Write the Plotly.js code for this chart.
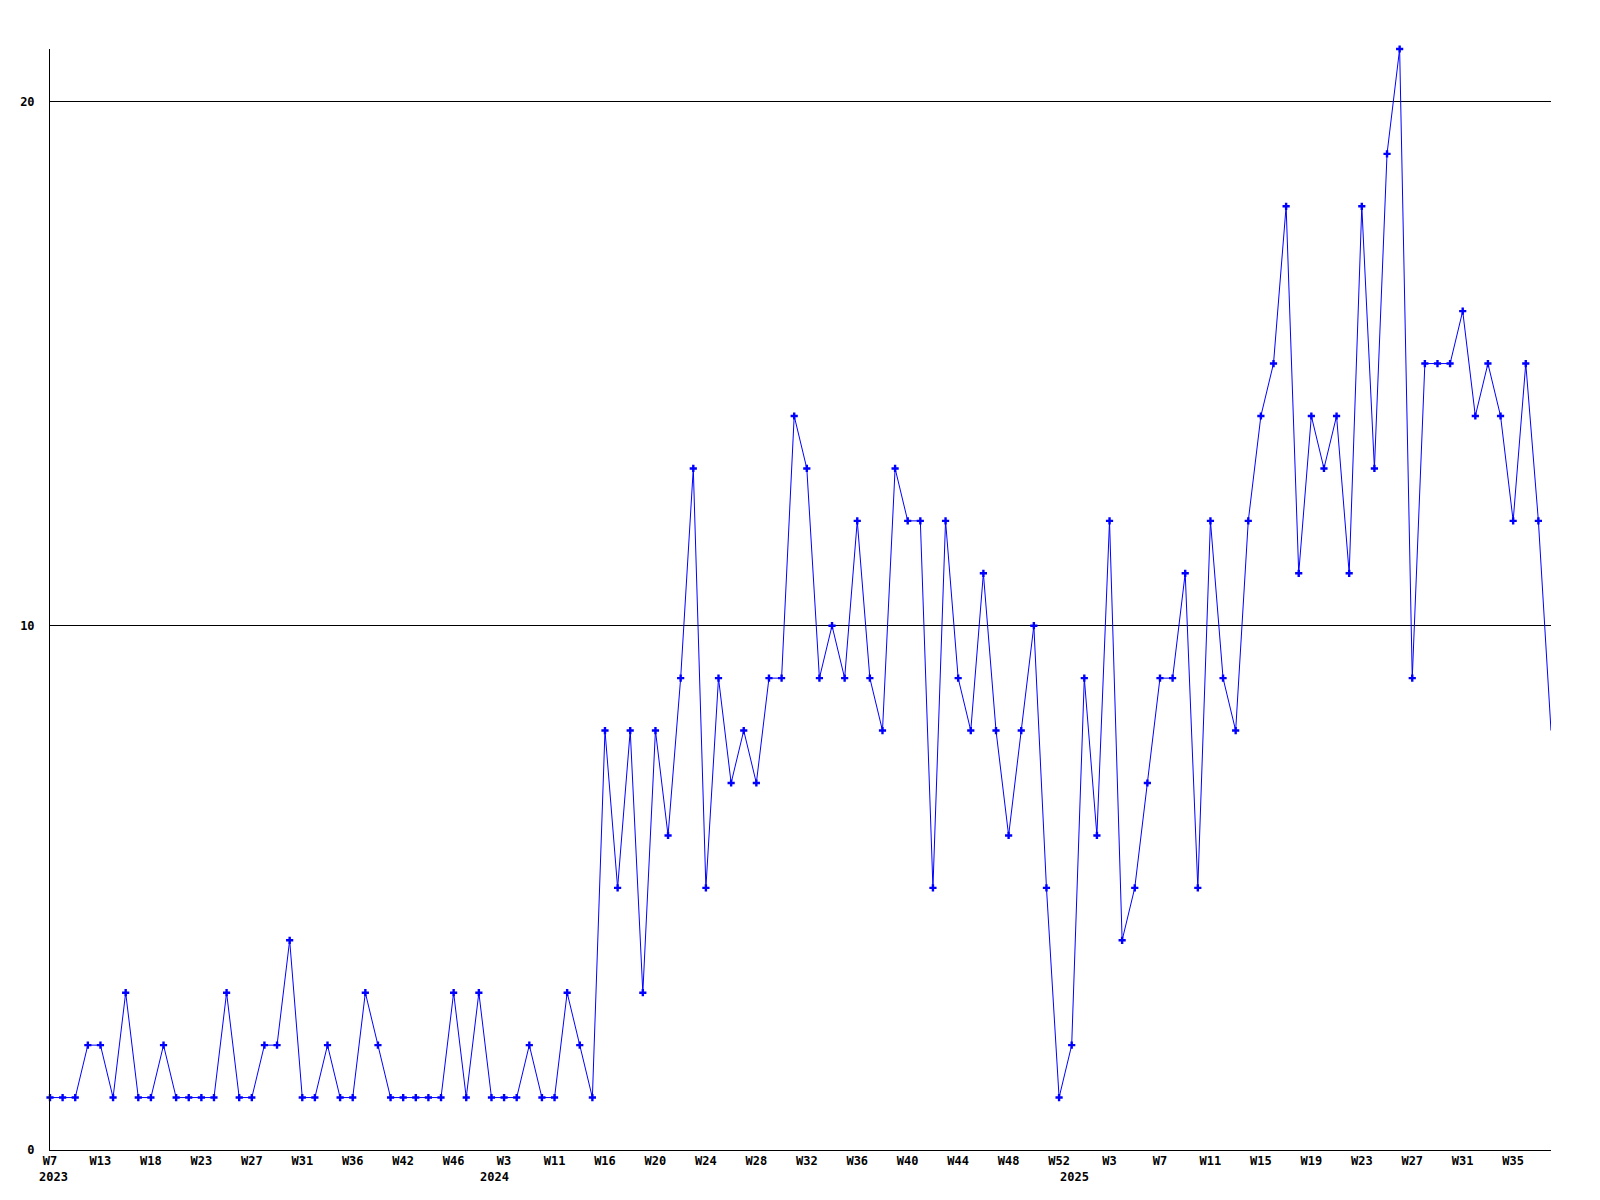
<!DOCTYPE html>
<html>
<head>
<meta charset="utf-8">
<script src="https://cdn.plot.ly/plotly-3.0.1.min.js"></script>
<style>
  html, body { margin: 0; padding: 0; background: #ffffff; }
  #chart { width: 1600px; height: 1200px; }
</style>
</head>
<body>
<div id="chart"></div>
<script>
// Week categories (year-week), one per data point
const weeks = [
  "2023-W07","2023-W08","2023-W10","2023-W11","2023-W13","2023-W14","2023-W15","2023-W17",
  "2023-W18","2023-W19","2023-W20","2023-W22","2023-W23","2023-W24","2023-W25","2023-W26",
  "2023-W27","2023-W28","2023-W29","2023-W30","2023-W31","2023-W32","2023-W33","2023-W35",
  "2023-W36","2023-W37","2023-W39","2023-W40","2023-W42","2023-W43","2023-W44","2023-W45",
  "2023-W46","2023-W48","2023-W50",
  "2024-W01","2024-W03","2024-W05","2024-W07","2024-W09","2024-W11","2024-W12","2024-W14",
  "2024-W15","2024-W16","2024-W17","2024-W18","2024-W19","2024-W20","2024-W21","2024-W22",
  "2024-W23","2024-W24","2024-W25","2024-W26","2024-W27","2024-W28","2024-W29","2024-W30",
  "2024-W31","2024-W32","2024-W33","2024-W34","2024-W35","2024-W36","2024-W37","2024-W38",
  "2024-W39","2024-W40","2024-W41","2024-W42","2024-W43","2024-W44","2024-W45","2024-W46",
  "2024-W47","2024-W48","2024-W49","2024-W50","2024-W51","2024-W52",
  "2025-W00","2025-W01","2025-W02","2025-W03","2025-W04","2025-W05","2025-W06","2025-W07",
  "2025-W08","2025-W09","2025-W10","2025-W11","2025-W12","2025-W13","2025-W14","2025-W15",
  "2025-W16","2025-W17","2025-W18","2025-W19","2025-W20","2025-W21","2025-W22","2025-W23",
  "2025-W24","2025-W25","2025-W26","2025-W27","2025-W28","2025-W29","2025-W30","2025-W31",
  "2025-W32","2025-W33","2025-W34","2025-W35","2025-W36","2025-W37","2025-W38"
];

// Weekly counts
const counts = [
  1,1,1,2,2,1,3,1,1,2,1,1,1,1,3,1,1,2,2,4,1,1,2,1,1,3,2,1,1,1,1,1,3,1,3,
  1,1,1,2,1,1,3,2,1,8,5,8,3,8,6,9,13,5,9,7,8,7,9,9,14,13,9,10,9,12,9,8,13,12,12,
  5,12,9,8,11,8,6,8,10,5,1,
  2,9,6,12,4,5,7,9,9,11,5,12,9,8,12,14,15,18,11,14,13,14,11,18,13,19,21,9,
  15,15,15,16,14,15,14,12,15,12,8
];

// Tick labels shown on the x axis (every fourth week)
const tickWeeks = [
  "2023-W07","2023-W13","2023-W18","2023-W23","2023-W27","2023-W31","2023-W36","2023-W42",
  "2023-W46","2024-W03","2024-W11","2024-W16","2024-W20","2024-W24","2024-W28","2024-W32",
  "2024-W36","2024-W40","2024-W44","2024-W48","2024-W52","2025-W03","2025-W07","2025-W11",
  "2025-W15","2025-W19","2025-W23","2025-W27","2025-W31","2025-W35"
];
const tickLabels = [
  "W7","W13","W18","W23","W27","W31","W36","W42","W46","W3","W11","W16","W20","W24","W28",
  "W32","W36","W40","W44","W48","W52","W3","W7","W11","W15","W19","W23","W27","W31","W35"
];
const yTicks = [0, 10, 20];

// Year labels at the first week of each year
const yearAnnotations = [];
let lastYear = null;
weeks.forEach(function (w) {
  const y = w.slice(0, 4);
  if (y !== lastYear) {
    yearAnnotations.push({
      x: w, xref: 'x', y: 0, yref: 'paper', yanchor: 'middle', xanchor: 'center',
      yshift: -27, xshift: 3, text: y, showarrow: false,
      font: {family: 'DejaVu Sans Mono', size: 12, color: '#000000', weight: 'bold'}
    });
    lastYear = y;
  }
});

// The marker of the last point sits on the right edge and is cut off in the original
const markerColors = counts.map(function (_, i) {
  return i === counts.length - 1 ? 'rgba(0,0,255,0)' : '#0000ff';
});

const trace = {
  type: 'scatter',
  mode: 'lines+markers',
  x: weeks,
  y: counts,
  cliponaxis: false,
  line: {color: '#0000ff', width: 1},
  marker: {symbol: 'cross', size: 6, color: markerColors},
  hoverinfo: 'x+y'
};

const layout = {
  width: 1600,
  height: 1200,
  paper_bgcolor: '#ffffff',
  plot_bgcolor: '#ffffff',
  showlegend: false,
  margin: {l: 50, r: 49, t: 49, b: 50},
  font: {family: 'DejaVu Sans Mono', size: 12, color: '#000000', weight: 'bold'},
  xaxis: {
    type: 'category',
    range: [0, weeks.length - 1],
    tickmode: 'array',
    tickvals: tickWeeks,
    ticktext: tickLabels,
    tickangle: 0,
    ticks: '',
    showgrid: false,
    zeroline: false,
    showline: true,
    linecolor: '#000000',
    linewidth: 1,
    tickfont: {family: 'DejaVu Sans Mono', size: 12, color: '#000000', weight: 'bold'}
  },
  yaxis: {
    range: [0, 21],
    tickmode: 'array',
    tickvals: yTicks,
    ticktext: yTicks.map(String),
    ticks: '',
    ticklabelstandoff: 12,
    showgrid: true,
    gridcolor: '#000000',
    gridwidth: 1,
    zeroline: false,
    showline: true,
    linecolor: '#000000',
    linewidth: 1,
    tickfont: {family: 'DejaVu Sans Mono', size: 12, color: '#000000', weight: 'bold'}
  },
  annotations: yearAnnotations
};

Plotly.newPlot('chart', [trace], layout, {displayModeBar: false, staticPlot: true});
</script>
</body>
</html>
